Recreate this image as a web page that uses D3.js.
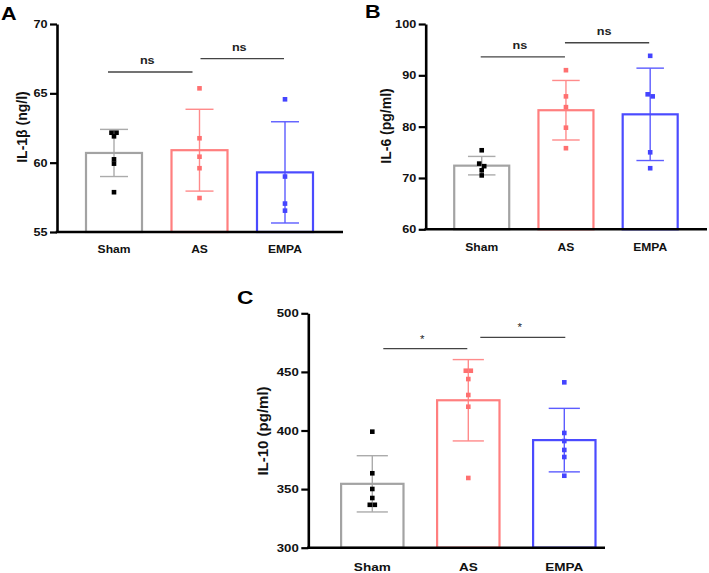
<!DOCTYPE html>
<html>
<head>
<meta charset="utf-8">
<script src="https://cdn.jsdelivr.net/npm/d3@7"></script>
<style>
  body { margin: 0; background: #fff; }
  svg { display: block; font-family: "Liberation Sans", Arial, sans-serif; }
</style>
</head>
<body>
<div id="graphic"></div>
<script>
// groups + colours
var groups = ["Sham", "AS", "EMPA"];
var colors = ["#a3a3a3", "#ff7f7f", "#4b4bff"];
var pointColors = ["#000000", "#ff7070", "#4444ff"];

// A: IL-1beta
var il1bMean = [60.7, 60.9, 59.3];
var il1bSd = [1.7, 2.95, 3.65];
var il1bPoints = [
  [62.16, 62.16, 61.9, 60.24, 59.93, 57.87],
  [65.36, 61.76, 60.43, 59.6, 57.45],
  [64.57, 59.0, 57.05, 56.54]
];
var il1bTicks = [55, 60, 65, 70];
var il1bSig = [["Sham", "AS", 66.54, "ns"], ["AS", "EMPA", 67.5, "ns"]];

// B: IL-6
var il6Mean = [72.4, 83.2, 82.4];
var il6Sd = [1.8, 5.8, 9.0];
var il6Points = [
  [75.4, 72.8, 72.3, 71.5, 70.5],
  [91.0, 85.9, 83.8, 79.8, 75.8],
  [93.8, 86.3, 85.9, 75.0, 71.9]
];
var il6Ticks = [60, 70, 80, 90, 100];
var il6Sig = [["Sham", "AS", 93.6, "ns"], ["AS", "EMPA", 96.35, "ns"]];

// C: IL-10
var il10Mean = [354.5, 425.8, 391.8];
var il10Sd = [24, 34.7, 27.1];
var il10Points = [
  [399, 363.5, 350.1, 342.4, 336.6, 336.6],
  [451, 451, 443.9, 430.3, 420.3, 359.5],
  [441.1, 397.9, 391, 383.4, 377.4, 361.4]
];
var il10Ticks = [300, 350, 400, 450, 500];
var il10Sig = [["Sham", "AS", 469.8, "*"], ["AS", "EMPA", 479.5, "*"]];

// the source figure is a bit wider than tall, text looks stretched sideways
var SX = 1.15;

var svg = d3.select("#graphic").append("svg")
  .attr("width", 709).attr("height", 573);
svg.append("rect").attr("width", 709).attr("height", 573).attr("fill", "#fff");

function wideText(g, x, y, k) {
  return g.append("text").attr("transform", "translate(" + x + "," + y + ") scale(" + k + ",1)");
}

function drawPanel(p) {
  var g = svg.append("g");
  var y = d3.scaleLinear().domain([p.ticks[0], p.ticks[p.ticks.length - 1]]).range(p.yRange);
  var x = d3.scaleBand().domain(groups).range(p.xRange).paddingInner(p.pad).paddingOuter(p.pad / 2);
  var bw = x.bandwidth();
  var cx = function(k) { return x(k) + bw / 2; };
  var base = y.domain()[0];

  // bars
  g.selectAll("rect.bar").data(groups).enter().append("rect")
    .attr("x", function(d) { return x(d); })
    .attr("y", function(d, i) { return y(p.mean[i]); })
    .attr("width", bw)
    .attr("height", function(d, i) { return y(base) - y(p.mean[i]); })
    .attr("fill", "#fff")
    .attr("stroke", function(d, i) { return colors[i]; })
    .attr("stroke-width", 2.2);

  // error bars
  groups.forEach(function(d, i) {
    var hi = y(p.mean[i] + p.sd[i]), lo = y(p.mean[i] - p.sd[i]);
    var eg = g.append("g").attr("stroke", colors[i]).attr("stroke-width", 1.4).attr("opacity", 0.9);
    eg.append("line").attr("x1", cx(d)).attr("x2", cx(d)).attr("y1", hi).attr("y2", lo);
    eg.append("line").attr("x1", cx(d) - bw / 4).attr("x2", cx(d) + bw / 4).attr("y1", hi).attr("y2", hi);
    eg.append("line").attr("x1", cx(d) - bw / 4).attr("x2", cx(d) + bw / 4).attr("y1", lo).attr("y2", lo);
  });

  // points, spread a little when they overlap
  groups.forEach(function(d, i) {
    var vals = p.points[i].slice().sort(d3.descending);
    var clusters = [];
    vals.forEach(function(v) {
      var last = clusters[clusters.length - 1];
      if (last && Math.abs(y(last[last.length - 1]) - y(v)) < 3) last.push(v);
      else clusters.push([v]);
    });
    clusters.forEach(function(c) {
      c.forEach(function(v, j) {
        var off = (j - (c.length - 1) / 2) * 5;
        g.append("rect")
          .attr("x", cx(d) + off - 2.3).attr("y", y(v) - 2.3)
          .attr("width", 4.6).attr("height", 4.6)
          .attr("fill", pointColors[i]);
      });
    });
  });

  // y axis
  var ax = g.append("g").attr("transform", "translate(" + p.axisX + ",0)")
    .call(d3.axisLeft(y).tickValues(p.ticks).tickSizeInner(7).tickSizeOuter(0).tickPadding(2));
  ax.select(".domain").attr("stroke", "#000").attr("stroke-width", 2.6);
  ax.selectAll(".tick line").attr("stroke", "#000").attr("stroke-width", 2.2);
  ax.selectAll(".tick text").attr("font-size", p.tickFont).attr("font-weight", "bold")
    .attr("fill", "#111").attr("font-family", "Liberation Sans, Arial, sans-serif")
    .attr("x", -9.5 / SX).attr("transform", "scale(" + SX + ",1)");

  // x axis line
  g.append("line").attr("x1", p.axisX - 1.3).attr("x2", p.axisEnd)
    .attr("y1", y(base)).attr("y2", y(base))
    .attr("stroke", "#000").attr("stroke-width", 2.6);

  groups.forEach(function(d) {
    wideText(g, cx(d), y(base) + p.xLabelDy, SX)
      .attr("text-anchor", "middle").attr("font-size", p.xFont).attr("font-weight", "bold")
      .attr("fill", "#111").text(d);
  });

  // y title
  g.append("text")
    .attr("transform", "translate(" + p.titleX + "," + p.titleY + ") rotate(-90)")
    .attr("text-anchor", "middle").attr("dominant-baseline", "central")
    .attr("font-size", p.titleFont).attr("font-weight", "bold").attr("fill", "#111")
    .text(p.title);

  // panel letter
  wideText(g, p.letterX, p.letterY, 1.2)
    .attr("font-size", p.letterFont).attr("font-weight", "bold").attr("fill", "#000")
    .text(p.letter);

  // significance
  p.sig.forEach(function(s, k) {
    var x1 = cx(s[0]) + p.sigOff[k][0], x2 = cx(s[1]) + p.sigOff[k][1];
    var ns = s[3] === "ns";
    g.append("line").attr("x1", x1).attr("x2", x2).attr("y1", y(s[2])).attr("y2", y(s[2]))
      .attr("stroke", "#444").attr("stroke-width", 1.3);
    wideText(g, (x1 + x2) / 2 - 3, y(s[2]) - (ns ? 8 : 6), SX)
      .attr("text-anchor", "middle")
      .attr("font-size", ns ? 11 : 10)
      .attr("font-weight", ns ? "bold" : "normal")
      .attr("fill", "#222").text(s[3]);
  });
}

drawPanel({
  mean: il1bMean, sd: il1bSd, points: il1bPoints, ticks: il1bTicks, sig: il1bSig,
  yRange: [232, 24], xRange: [71.25, 327.75], pad: 0.345,
  axisX: 57, axisEnd: 343, tickFont: 11, xFont: 10.5, xLabelDy: 21,
  title: "IL-1\u03b2 (ng/l)", titleX: 22, titleY: 127, titleFont: 14,
  letter: "A", letterX: 1, letterY: 20, letterFont: 18,
  sigOff: [[-6, -7], [1, -1]]
});

drawPanel({
  mean: il6Mean, sd: il6Sd, points: il6Points, ticks: il6Ticks, sig: il6Sig,
  yRange: [229.3, 24], xRange: [439.6, 692.3], pad: 0.347,
  axisX: 425.7, axisEnd: 707, tickFont: 11, xFont: 10.5, xLabelDy: 22,
  title: "IL-6 (pg/ml)", titleX: 386, titleY: 126, titleFont: 14,
  letter: "B", letterX: 365, letterY: 17.5, letterFont: 18,
  sigOff: [[-1, -1], [-1, -1]]
});

drawPanel({
  mean: il10Mean, sd: il10Sd, points: il10Points, ticks: il10Ticks, sig: il10Sig,
  yRange: [547.7, 313.3], xRange: [324.3, 612.3], pad: 0.35,
  axisX: 308.3, axisEnd: 605, tickFont: 11.5, xFont: 11.8, xLabelDy: 23,
  title: "IL-10 (pg/ml)", titleX: 262.5, titleY: 431, titleFont: 15,
  letter: "C", letterX: 237, letterY: 304, letterFont: 19,
  sigOff: [[11, -1], [12, 1]]
});
</script>
</body>
</html>
